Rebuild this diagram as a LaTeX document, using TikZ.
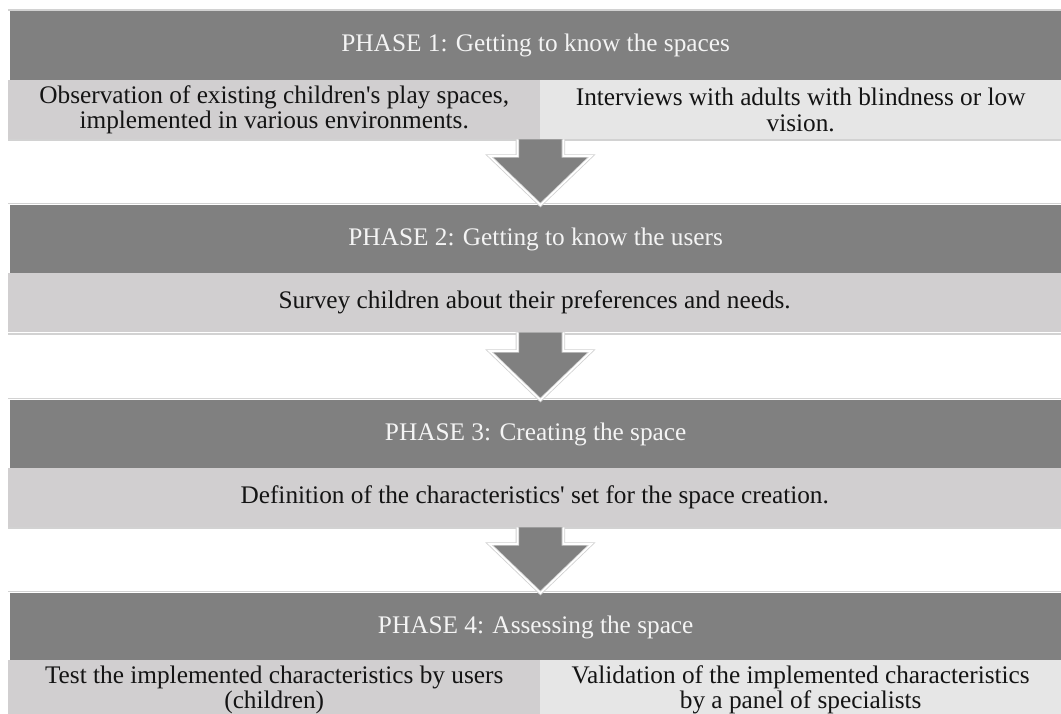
\documentclass[tikz,border=0pt]{standalone}
\usepackage{fontspec}
\setmainfont{Liberation Serif}
\usetikzlibrary{calc}
\definecolor{hdrgray}{HTML}{808080}
\definecolor{cellgrayA}{HTML}{D1CFD0}
\definecolor{cellgrayB}{HTML}{E6E6E6}
\definecolor{rulegray}{HTML}{D2D2D2}
\definecolor{hdrtext}{HTML}{F4F4F4}
\definecolor{bodytext}{HTML}{141414}
\newcommand\phasearrow[2]{%
  \fill[flowfill] ($(#1)+(-23,0)$) -- ($(#2)+(-23,-49)$) -- ($(#2)+(-51,-49)$) -- (#2)
    -- ($(#2)+(51,-49)$) -- ($(#2)+(23,-49)$) -- ($(#1)+(23,0)$) -- cycle;
  \draw[flowouter] ($(#1)+(-23,0)$) -- ($(#2)+(-23,-49)$) -- ($(#2)+(-51,-49)$) -- (#2)
    -- ($(#2)+(51,-49)$) -- ($(#2)+(23,-49)$) -- ($(#1)+(23,0)$);
  \draw[flowedge] ($(#1)+(-23,0)$) -- ($(#2)+(-23,-49)$) -- ($(#2)+(-51,-49)$) -- (#2)
    -- ($(#2)+(51,-49)$) -- ($(#2)+(23,-49)$) -- ($(#1)+(23,0)$);
}
\begin{document}
\begin{tikzpicture}[x=1pt,y=-1pt,
  hdr/.style={fill=hdrgray, text=hdrtext, minimum width=1051pt, minimum height=69pt,
    anchor=north west, inner sep=0pt, font=\fontsize{25.3}{25.5}\selectfont},
  cellA/.style={fill=cellgrayA, text=bodytext, minimum height=59pt, anchor=north west,
    inner sep=0pt, align=center, font=\fontsize{25.3}{25.5}\selectfont},
  cellB/.style={cellA, fill=cellgrayB},
  sepline/.style={draw=rulegray, line width=1.3pt},
  flowfill/.style={fill=hdrgray},
  flowouter/.style={draw=rulegray, line width=3.4pt, line join=miter},
  flowedge/.style={draw=white, line width=1.7pt, line join=miter}
]
\useasboundingbox (0,0) rectangle (1061,714);
\clip (0,0) rectangle (1061,714);
\fill[white] (0,0) rectangle (1061,714);

% Phase 1
\draw[sepline] (8,10) -- (1061,10);
\node[hdr] (h1) at (10,11) {PHASE 1: Getting to know the spaces};
\node[cellA, minimum width=532pt] (c1l) at (8,80) {Observation of existing children\textquotesingle s play spaces,\\implemented in various environments.};
\node[cellB, minimum width=521pt] (c1r) at (540,80) {Interviews with adults with blindness or low\\vision.};
\draw[sepline] (8,140) -- (1061,140);

% Phase 2
\draw[sepline] (8,203.5) -- (1061,203.5);
\node[hdr] (h2) at (10,205) {PHASE 2: Getting to know the users};
\node[cellA, minimum width=1053pt] (c2) at (8,273) {Survey children about their preferences and needs.};
\draw[sepline] (8,334) -- (1061,334);

% Phase 3
\draw[sepline] (8,398.5) -- (1061,398.5);
\node[hdr] (h3) at (10,400) {PHASE 3: Creating the space};
\node[cellA, minimum width=1053pt] (c3) at (8,468) {Definition of the characteristics\textquotesingle\ set for the space creation.};
\draw[sepline] (8,528) -- (1061,528);

% Phase 4
\draw[sepline] (8,591.5) -- (1061,591.5);
\node[hdr] (h4) at (10,593) {PHASE 4: Assessing the space};
\node[cellA, minimum width=532pt] (c4l) at (8,660) {Test the implemented characteristics by users\\(children)};
\node[cellB, minimum width=521pt] (c4r) at (540,660) {Validation of the implemented characteristics\\by a panel of specialists};

% Arrows
\coordinate (a1s) at (c1l.south east);
\coordinate (a1e) at (h2.north -| a1s);
\coordinate (a2s) at (c2.south -| a1s);
\coordinate (a2e) at (h3.north -| a1s);
\coordinate (a3s) at (c3.south -| a1s);
\coordinate (a3e) at (h4.north -| a1s);
\phasearrow{a1s}{a1e}
\phasearrow{a2s}{a2e}
\phasearrow{a3s}{a3e}
\end{tikzpicture}
\end{document}
